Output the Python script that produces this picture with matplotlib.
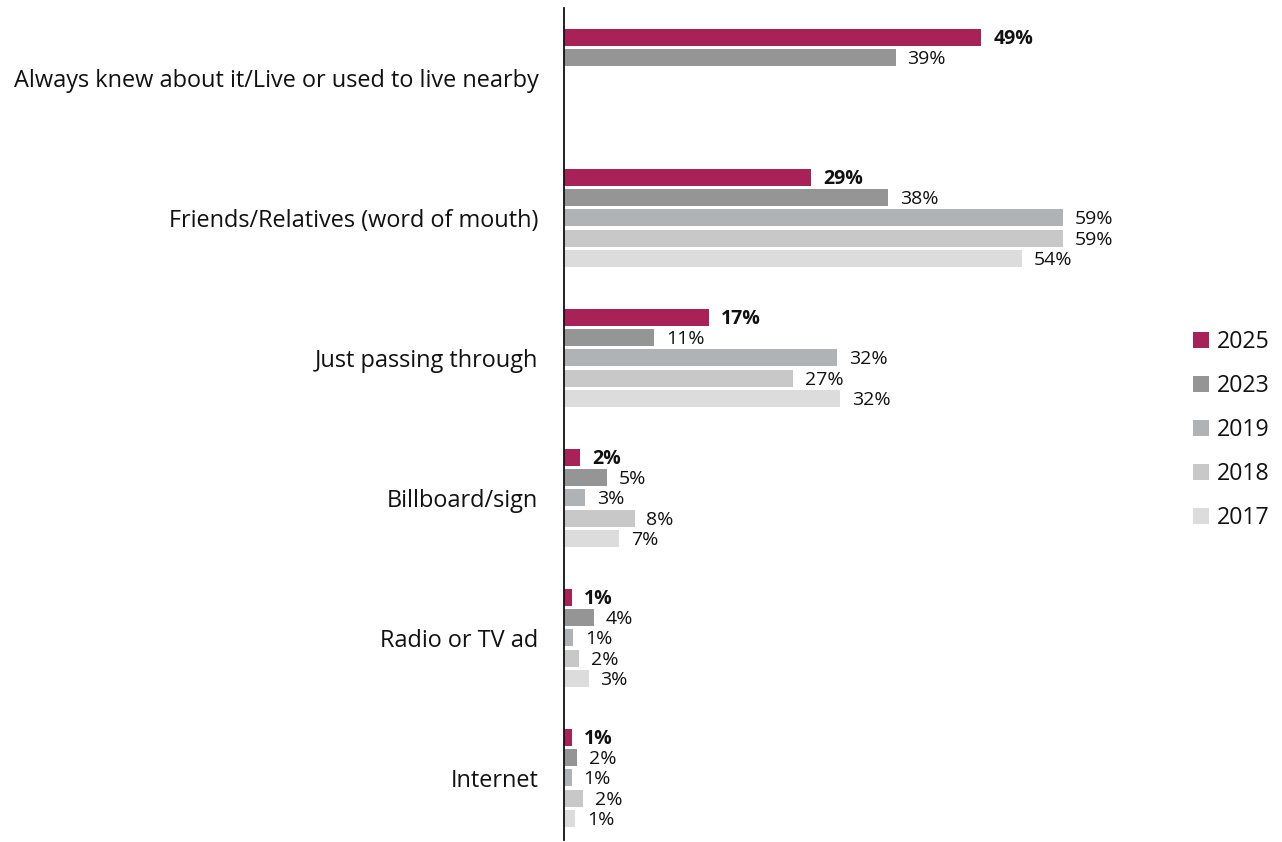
import matplotlib
matplotlib.use("Agg")
import matplotlib.pyplot as plt
import numpy as np
from matplotlib.patches import Patch

plt.rcParams['font.family'] = ['Open Sans', 'DejaVu Sans']

categories = ["Always knew about it/Live or used to live nearby",
              "Friends/Relatives (word of mouth)",
              "Just passing through",
              "Billboard/sign",
              "Radio or TV ad",
              "Internet"]
years = ["2025", "2023", "2019", "2018", "2017"]
values = {
    "2025": [49.1, 29.1, 17.1, 1.9, 0.9, 0.9],
    "2023": [39.0, 38.1, 10.6, 5.0, 3.5, 1.5],
    "2019": [np.nan, 58.7, 32.1, 2.5, 1.1, 0.9],
    "2018": [np.nan, 58.7, 26.9, 8.3, 1.8, 2.2],
    "2017": [np.nan, 53.9, 32.5, 6.5, 2.9, 1.3],
}
labels = {
    "2025": ["49%", "29%", "17%", "2%", "1%", "1%"],
    "2023": ["39%", "38%", "11%", "5%", "4%", "2%"],
    "2019": [None, "59%", "32%", "3%", "1%", "1%"],
    "2018": [None, "59%", "27%", "8%", "2%", "2%"],
    "2017": [None, "54%", "32%", "7%", "3%", "1%"],
}
colors = {"2025": "#A82157", "2023": "#959595", "2019": "#B0B3B6",
          "2018": "#C8C8C9", "2017": "#DCDCDD"}

W, H = 1282, 842
fig = plt.figure(figsize=(W / 100, H / 100), dpi=100)
xmax = 70
ax = fig.add_axes([564 / W, (H - 840) / H, xmax * 8.5 / W, (840 - 8) / H])

slot = 20.3 / 140
bh = 17 / 140
y0 = np.arange(len(categories))
for j, yr in enumerate(years):
    ys = y0 + (j - 2) * slot
    vals = np.array(values[yr], dtype=float)
    mask = ~np.isnan(vals)
    ax.barh(ys[mask], vals[mask], height=bh, color=colors[yr], linewidth=0)
    for y, v, lab in zip(ys, vals, labels[yr]):
        if lab is None:
            continue
        ax.text(v + 1.4, y + 0.01, lab, va="center", ha="left",
                fontsize=14, color="#111111",
                fontweight="bold" if yr == "2025" else "normal")

ax.set_xlim(0, xmax)
ax.set_ylim(5.443, -0.5)
ax.set_yticks(y0)
ax.set_yticklabels(categories, fontsize=16.9, color="#111111")
ax.tick_params(axis="y", length=0, pad=18.5)
ax.set_xticks([])
for s in ["top", "right", "bottom"]:
    ax.spines[s].set_visible(False)
ax.spines["left"].set_linewidth(1.3)
ax.spines["left"].set_color("#111111")

handles = [Patch(facecolor=colors[y], edgecolor="none", label=y) for y in years]
fig.legend(handles=handles, loc="upper left", bbox_to_anchor=(1184 / W, 1 - 321 / H),
           frameon=False, fontsize=16.7, handlelength=0.68, handleheight=0.68,
           handletextpad=0.32, labelspacing=0.86, borderaxespad=0,
           labelcolor="#111111")

fig.savefig("out.png", dpi=100)
